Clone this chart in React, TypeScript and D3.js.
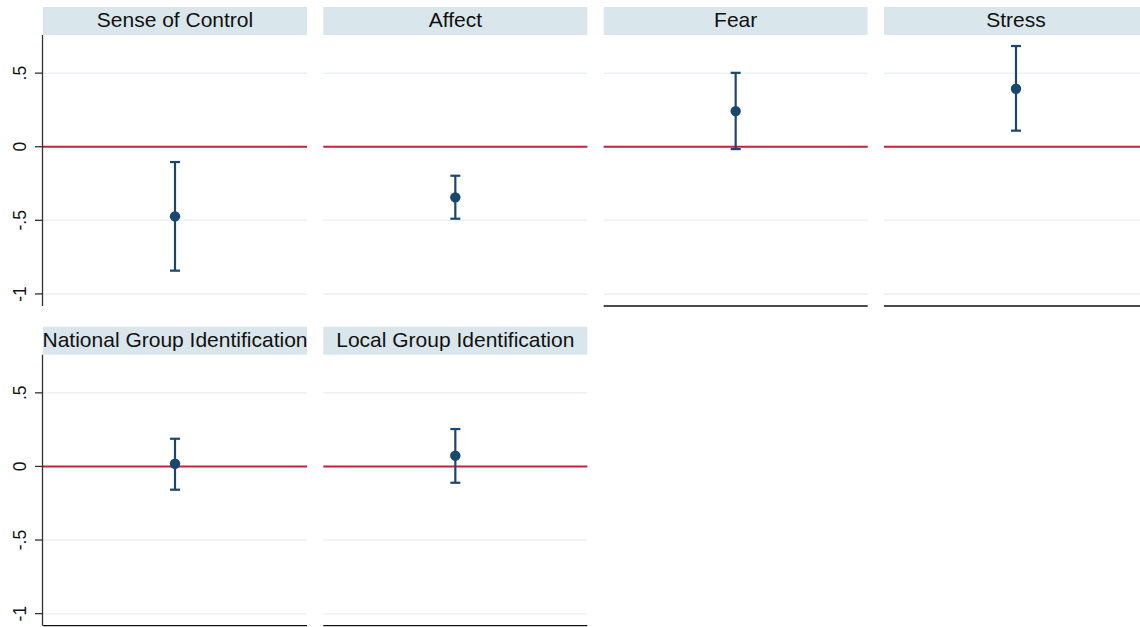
import React from "react";
import * as d3 from "d3";

// Outcome panels, in reading order
const outcomes = [
  "Sense of Control",
  "Affect",
  "Fear",
  "Stress",
  "National Group Identification",
  "Local Group Identification",
];
// Point estimates and 95% confidence bounds
const estimates = [-0.473, -0.344, 0.242, 0.394, 0.018, 0.073];
const lowerCI = [-0.842, -0.489, -0.016, 0.109, -0.158, -0.111];
const upperCI = [-0.104, -0.197, 0.502, 0.684, 0.188, 0.254];

const yTicks = [-1, -0.5, 0, 0.5];
const yTickLabels = ["-1", "-.5", "0", ".5"];

const W = 1140;
const H = 627;
const NCOL = 4;
const PANEL_W = 264;
const COL_STEP = 280.33;
const ROW_STEP = 319.7;
const LEFT = 43;
const STRIP_TOP = 7;
const STRIP_H = 28;
const PLOT_BOTTOM = 306;

const NAVY = "#1a476f";
const ZERO = "#c8203f";
const STRIP = "#d9e6eb";
const GRID = "#eaf2f3";
const FONT = "'Liberation Sans', Arimo, Arial, Helvetica, sans-serif";

export default function App() {
  const plotTop = STRIP_TOP + STRIP_H;
  const y = d3.scaleLinear().domain([-1.082, 0.759]).range([PLOT_BOTTOM, plotTop]);
  const x = d3.scaleBand().domain(["est"]).range([0, PANEL_W]);

  // A panel is the lowest in its column when nothing sits below it
  const isBottom = (i: number) => i + NCOL >= outcomes.length;

  return (
    <svg
      width={W}
      height={H}
      style={{ position: "absolute", left: 0, top: 0, background: "#fff" }}
      fontFamily={FONT}
    >
      <rect width={W} height={H} fill="#fff" />
      {outcomes.map((name, i) => {
        const col = i % NCOL;
        const row = Math.floor(i / NCOL);
        const tx = LEFT + col * COL_STEP;
        const ty = row * ROW_STEP;
        const cx = (x("est") ?? 0) + x.bandwidth() / 2;
        return (
          <g key={name} transform={`translate(${tx},${ty})`}>
            <rect x={0} y={STRIP_TOP} width={PANEL_W} height={STRIP_H} fill={STRIP} />
            <text
              x={PANEL_W / 2}
              y={STRIP_TOP + 20}
              textAnchor="middle"
              fontSize={21}
              fill="#111"
            >
              {name}
            </text>
            {yTicks.map((t) => (
              <line
                key={t}
                x1={0}
                x2={PANEL_W}
                y1={y(t)}
                y2={y(t)}
                stroke={GRID}
                strokeWidth={1.5}
              />
            ))}
            <line x1={0} x2={PANEL_W} y1={y(0)} y2={y(0)} stroke={ZERO} strokeWidth={2} />
            {isBottom(i) && (
              <line
                x1={0}
                x2={PANEL_W}
                y1={PLOT_BOTTOM}
                y2={PLOT_BOTTOM}
                stroke="#111"
                strokeWidth={1.3}
              />
            )}
            {col === 0 && (
              <g>
                <line
                  x1={-0.5}
                  x2={-0.5}
                  y1={plotTop}
                  y2={PLOT_BOTTOM}
                  stroke="#333"
                  strokeWidth={1.3}
                />
                {yTicks.map((t, k) => (
                  <g key={t}>
                    <line x1={-8} x2={-0.5} y1={y(t)} y2={y(t)} stroke="#333" strokeWidth={1.3} />
                    <text
                      transform={`translate(${-17},${y(t)}) rotate(-90)`}
                      textAnchor="middle"
                      fontSize={17.5}
                      fill="#111"
                    >
                      {yTickLabels[k]}
                    </text>
                  </g>
                ))}
              </g>
            )}
            <line
              x1={cx}
              x2={cx}
              y1={y(lowerCI[i])}
              y2={y(upperCI[i])}
              stroke={NAVY}
              strokeWidth={2.2}
            />
            {[lowerCI[i], upperCI[i]].map((v, k) => (
              <line
                key={k}
                x1={cx - 5}
                x2={cx + 5}
                y1={y(v)}
                y2={y(v)}
                stroke={NAVY}
                strokeWidth={2.2}
              />
            ))}
            <circle cx={cx} cy={y(estimates[i])} r={5.2} fill={NAVY} />
          </g>
        );
      })}
    </svg>
  );
}
